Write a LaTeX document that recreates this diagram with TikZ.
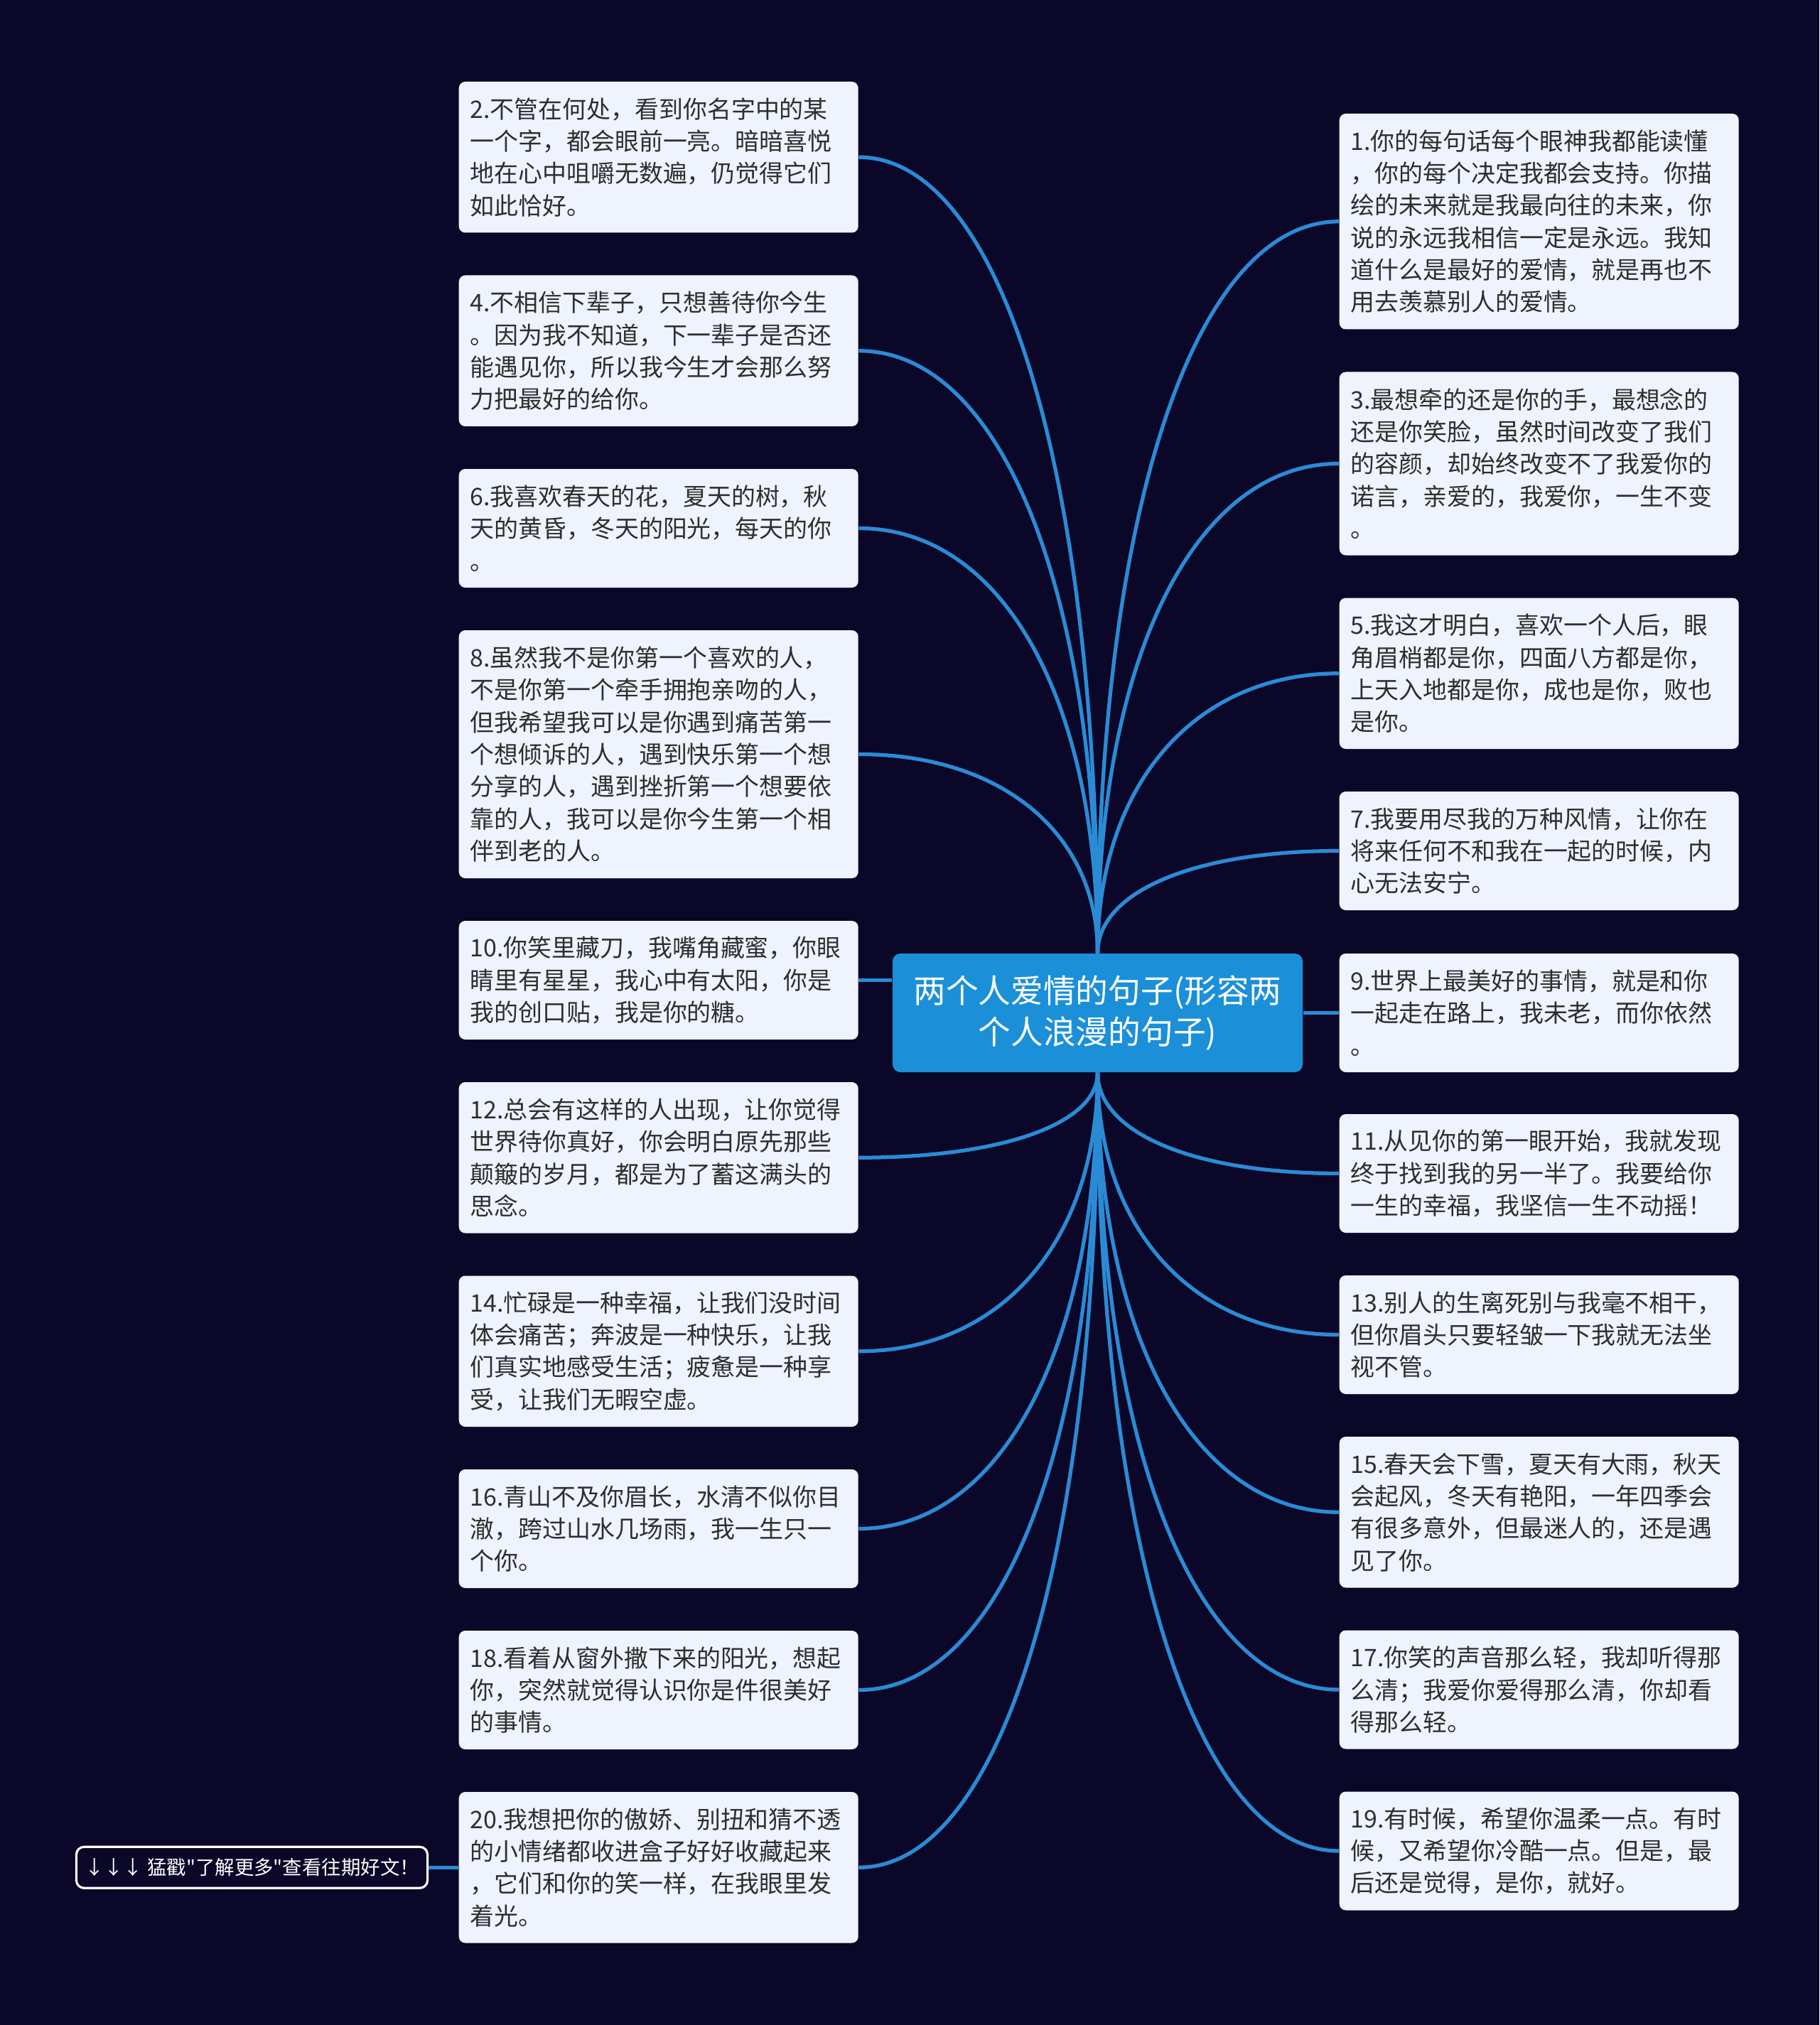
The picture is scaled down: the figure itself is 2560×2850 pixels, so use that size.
\documentclass[tikz,border=0pt]{standalone}
\usepackage{fontspec}
\newfontfamily\cjk{Noto Sans CJK SC}
\usepackage{tikz}
\usetikzlibrary{calc,positioning}
\definecolor{bgnavy}{HTML}{0B0729}
\definecolor{boxbg}{HTML}{EEF3FD}
\definecolor{boxtext}{HTML}{2E2E2E}
\definecolor{rootblue}{HTML}{1B90D8}
\definecolor{linkblue}{HTML}{2A8BD5}

\begin{document}
\begin{tikzpicture}[x=0.1mm,y=-0.1mm,
        leaf/.style={rectangle, rounded corners=0.9mm, fill=boxbg, text=boxtext,
                anchor=west, text width=53mm, inner xsep=1.6mm, align=left,
                font=\cjk\fontsize{9.65pt}{12.9pt}\selectfont},
        root/.style={rectangle, rounded corners=1.1mm, fill=rootblue, text=white,
                minimum width=57.7mm, minimum height=16.7mm, align=center,
                font=\cjk\fontsize{13pt}{16.5pt}\selectfont},
        tipbox/.style={rectangle, rounded corners=1.1mm, draw=white, line width=0.9pt,
                fill=bgnavy, text=white, minimum width=48.3mm, minimum height=5.8mm,
                font=\cjk\fontsize{7.8pt}{9pt}\selectfont},
        link/.style={draw=linkblue, line width=1.5pt}]
        \def\lx{645}
        \def\rx{1884}
        %Background
        \fill[bgnavy] (0,0) rectangle (2560,2850);
        %Centre
        \node[root] (ctr) at (1544.5,1425.5) {两个人爱情的句子(形容两\\个人浪漫的句子)};
        %Left column
        \node[leaf, minimum height=21.25mm] (b2) at (\lx,221.25) {2.不管在何处，看到你名字中的某\\一个字，都会眼前一亮。暗暗喜悦\\地在心中咀嚼无数遍，仍觉得它们\\如此恰好。};
        \node[leaf, minimum height=21.25mm] (b4) at (\lx,493.75) {4.不相信下辈子，只想善待你今生\\。因为我不知道，下一辈子是否还\\能遇见你，所以我今生才会那么努\\力把最好的给你。};
        \node[leaf, minimum height=16.7mm] (b6) at (\lx,743.5) {6.我喜欢春天的花，夏天的树，秋\\天的黄昏，冬天的阳光，每天的你\\。};
        \node[leaf, minimum height=34.9mm] (b8) at (\lx,1061.5) {8.虽然我不是你第一个喜欢的人，\\不是你第一个牵手拥抱亲吻的人，\\但我希望我可以是你遇到痛苦第一\\个想倾诉的人，遇到快乐第一个想\\分享的人，遇到挫折第一个想要依\\靠的人，我可以是你今生第一个相\\伴到老的人。};
        \node[leaf, minimum height=16.7mm] (b10) at (\lx,1379.5) {10.你笑里藏刀，我嘴角藏蜜，你眼\\睛里有星星，我心中有太阳，你是\\我的创口贴，我是你的糖。};
        \node[leaf, minimum height=21.25mm] (b12) at (\lx,1629.25) {12.总会有这样的人出现，让你觉得\\世界待你真好，你会明白原先那些\\颠簸的岁月，都是为了蓄这满头的\\思念。};
        \node[leaf, minimum height=21.25mm] (b14) at (\lx,1901.75) {14.忙碌是一种幸福，让我们没时间\\体会痛苦；奔波是一种快乐，让我\\们真实地感受生活；疲惫是一种享\\受，让我们无暇空虚。};
        \node[leaf, minimum height=16.7mm] (b16) at (\lx,2151.5) {16.青山不及你眉长，水清不似你目\\澈，跨过山水几场雨，我一生只一\\个你。};
        \node[leaf, minimum height=16.7mm] (b18) at (\lx,2378.5) {18.看着从窗外撒下来的阳光，想起\\你，突然就觉得认识你是件很美好\\的事情。};
        \node[leaf, minimum height=21.25mm] (b20) at (\lx,2628.25) {20.我想把你的傲娇、别扭和猜不透\\的小情绪都收进盒子好好收藏起来\\，它们和你的笑一样，在我眼里发\\着光。};
        %Right column
        \node[leaf, minimum height=30.35mm] (b1) at (\rx,311.75) {1.你的每句话每个眼神我都能读懂\\，你的每个决定我都会支持。你描\\绘的未来就是我最向往的未来，你\\说的永远我相信一定是永远。我知\\道什么是最好的爱情，就是再也不\\用去羡慕别人的爱情。};
        \node[leaf, minimum height=25.8mm] (b3) at (\rx,652.5) {3.最想牵的还是你的手，最想念的\\还是你笑脸，虽然时间改变了我们\\的容颜，却始终改变不了我爱你的\\诺言，亲爱的，我爱你，一生不变\\。};
        \node[leaf, minimum height=21.25mm] (b5) at (\rx,947.75) {5.我这才明白，喜欢一个人后，眼\\角眉梢都是你，四面八方都是你，\\上天入地都是你，成也是你，败也\\是你。};
        \node[leaf, minimum height=16.7mm] (b7) at (\rx,1197.5) {7.我要用尽我的万种风情，让你在\\将来任何不和我在一起的时候，内\\心无法安宁。};
        \node[leaf, minimum height=16.7mm] (b9) at (\rx,1425.5) {9.世界上最美好的事情，就是和你\\一起走在路上，我未老，而你依然\\。};
        \node[leaf, minimum height=16.7mm] (b11) at (\rx,1651.5) {11.从见你的第一眼开始，我就发现\\终于找到我的另一半了。我要给你\\一生的幸福，我坚信一生不动摇！};
        \node[leaf, minimum height=16.7mm] (b13) at (\rx,1878.5) {13.别人的生离死别与我毫不相干，\\但你眉头只要轻皱一下我就无法坐\\视不管。};
        \node[leaf, minimum height=21.25mm] (b15) at (\rx,2128.25) {15.春天会下雪，夏天有大雨，秋天\\会起风，冬天有艳阳，一年四季会\\有很多意外，但最迷人的，还是遇\\见了你。};
        \node[leaf, minimum height=16.7mm] (b17) at (\rx,2378) {17.你笑的声音那么轻，我却听得那\\么清；我爱你爱得那么清，你却看\\得那么轻。};
        \node[leaf, minimum height=16.7mm] (b19) at (\rx,2605) {19.有时候，希望你温柔一点。有时\\候，又希望你冷酷一点。但是，最\\后还是觉得，是你，就好。};
        %Tip
        \node[tipbox] (tip) at (354.5,2628.25) {↓↓↓ 猛戳"了解更多"查看往期好文！};
        %Links up
        \foreach \b in {b2,b4,b6,b8}
                \draw[link] (ctr.north) .. controls ($(ctr.north)!0.6!(ctr.north|-\b.east)$) and ($(\b.east)!0.6!(ctr.north|-\b.east)$) .. (\b.east);
        \foreach \b in {b1,b3,b5,b7}
                \draw[link] (ctr.north) .. controls ($(ctr.north)!0.6!(ctr.north|-\b.west)$) and ($(\b.west)!0.6!(ctr.north|-\b.west)$) .. (\b.west);
        %Links down
        \foreach \b in {b12,b14,b16,b18,b20}
                \draw[link] (ctr.south) .. controls ($(ctr.south)!0.6!(ctr.south|-\b.east)$) and ($(\b.east)!0.6!(ctr.south|-\b.east)$) .. (\b.east);
        \foreach \b in {b11,b13,b15,b17,b19}
                \draw[link] (ctr.south) .. controls ($(ctr.south)!0.6!(ctr.south|-\b.west)$) and ($(\b.west)!0.6!(ctr.south|-\b.west)$) .. (\b.west);
        %Straight links
        \draw[link] (b10.east) -- (b10.east -| ctr.west);
        \draw[link] (ctr.east) -- (b9.west);
        \draw[link] (tip.east) -- (b20.west);
\end{tikzpicture}
\end{document}
